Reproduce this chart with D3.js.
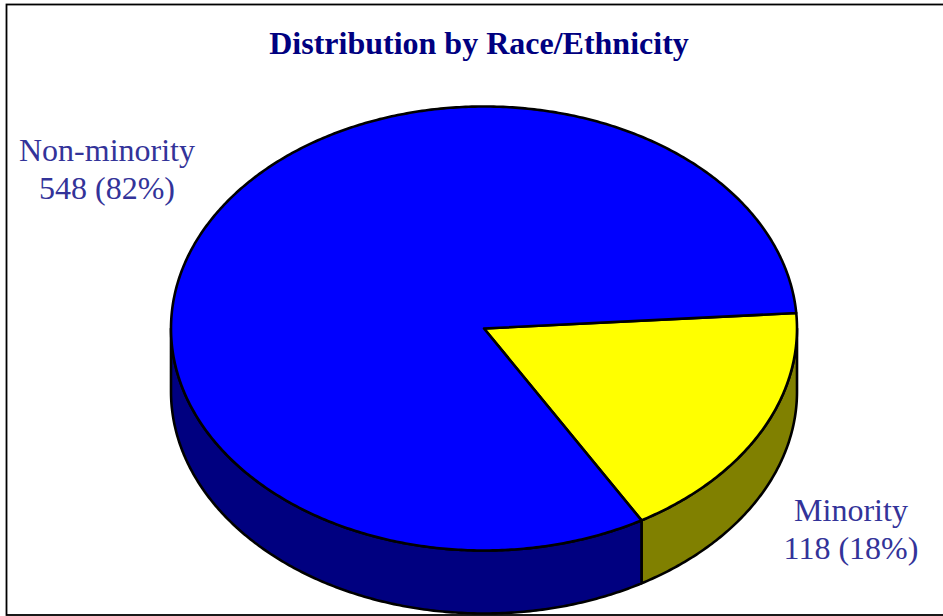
<!DOCTYPE html>
<html>
<head>
<meta charset="utf-8">
<script src="https://cdn.jsdelivr.net/npm/d3@7"></script>
<style>
  html, body { margin: 0; padding: 0; background: #fff; }
  svg { display: block; }
  text { font-family: "Liberation Serif", serif; }
</style>
</head>
<body>
<div id="chart"></div>
<script>
// Data
const categories = ["Minority", "Non-minority"];
const counts = [118, 548];
const percentLabels = ["18%", "82%"];
const topColors = ["#FFFF00", "#0000FF"];
const sideColors = ["#808000", "#000080"];

const width = 943, height = 616;
const cx = 484, cy = 328.5, rx = 313, ry = 222, depth = 63;
const firstAngle = 86 * Math.PI / 180; // minority slice starts just above 3 o'clock
const edge = 2.6;

const svg = d3.select("#chart").append("svg")
  .attr("width", width)
  .attr("height", height);

// Chart frame, the right side runs off the picture
svg.append("rect")
  .attr("x", 6.5).attr("y", 4.5)
  .attr("width", 945).attr("height", 610.5)
  .attr("fill", "#fff")
  .attr("stroke", "#000")
  .attr("stroke-width", 1.8);

svg.append("text")
  .attr("x", 479).attr("y", 54)
  .attr("text-anchor", "middle")
  .attr("font-size", 32)
  .attr("font-weight", "bold")
  .attr("fill", "#000080")
  .text("Distribution by Race/Ethnicity");

const pie = d3.pie()
  .sort(null)
  .startAngle(firstAngle)
  .endAngle(firstAngle + 2 * Math.PI);
const slices = pie(counts);

// Angle 0 is 12 o'clock, going clockwise, same as d3.arc
const px = a => cx + rx * Math.sin(a);
const py = a => cy - ry * Math.cos(a);
const line = d3.line().x(d => d[0]).y(d => d[1]);

function arcPoints(a0, a1, dy) {
  const n = Math.max(2, Math.ceil(Math.abs(a1 - a0) / 0.01));
  return d3.range(n + 1).map(i => {
    const a = a0 + (a1 - a0) * i / n;
    return [px(a), py(a) + dy];
  });
}

// Side wall, only the front half of the rim shows (90deg to 270deg)
const frontStart = Math.PI / 2, frontEnd = 3 * Math.PI / 2;
slices.forEach(s => {
  const a0 = Math.max(s.startAngle, frontStart);
  const a1 = Math.min(s.endAngle, frontEnd);
  if (a1 <= a0) return;
  const pts = arcPoints(a0, a1, 0).concat(arcPoints(a1, a0, depth));
  svg.append("path")
    .attr("d", line(pts) + "Z")
    .attr("fill", sideColors[s.index])
    .attr("stroke", "#000")
    .attr("stroke-width", edge)
    .attr("stroke-linejoin", "round");
});

// Top face
slices.forEach(s => {
  const pts = [[cx, cy]].concat(arcPoints(s.startAngle, s.endAngle, 0));
  svg.append("path")
    .attr("d", line(pts) + "Z")
    .attr("fill", topColors[s.index])
    .attr("stroke", "#000")
    .attr("stroke-width", edge)
    .attr("stroke-linejoin", "round");
});

// Labels
const labelPos = [[851, 521, 559], [107, 161, 199]];
categories.forEach((c, i) => {
  const [x, y1, y2] = labelPos[i];
  const g = svg.append("g")
    .attr("text-anchor", "middle")
    .attr("font-size", 32)
    .attr("fill", "#333399");
  g.append("text").attr("x", x).attr("y", y1).text(c);
  g.append("text").attr("x", x).attr("y", y2).text(`${counts[i]} (${percentLabels[i]})`);
});
</script>
</body>
</html>
